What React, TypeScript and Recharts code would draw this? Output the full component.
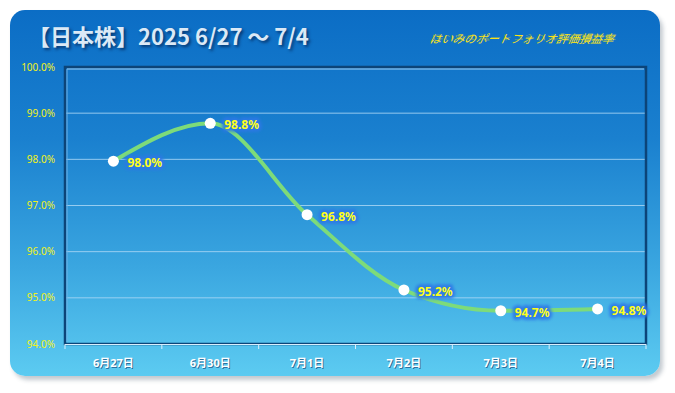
import React from 'react';
import * as R from 'recharts';
import { LineChart, Line, XAxis, YAxis, CartesianGrid } from 'recharts';

const categories = ['6月27日', '6月30日', '7月1日', '7月2日', '7月3日', '7月4日'];
const values = [97.96, 98.78, 96.8, 95.17, 94.72, 94.76];
const yTicks = [94, 95, 96, 97, 98, 99, 100];
const titleText = '【日本株】2025 6/27 ～ 7/4';
const subtitleText = 'はいみのポートフォリオ評価損益率';

const data = categories.map((c, i) => ({ cat: c, v: values[i] }));

const FONT = '"Noto Sans", "Noto Sans CJK JP", sans-serif';

const PlotFrame = () => {
  const pa: any = (R as any).usePlotArea ? (R as any).usePlotArea() : null;
  if (!pa) return null;
  const { x, y, width, height } = pa;
  const n = categories.length;
  const ticks = Array.from({ length: n + 1 }, (_, i) => x + (width * i) / n);
  return (
    <g>
      <rect x={x} y={y} width={width} height={height} fill="none" stroke="#0c4478" strokeWidth={2.5} />
      <line x1={x + 2} y1={y + 2} x2={x + width - 2} y2={y + 2} stroke="#9fd0f4" strokeWidth={1} />
      <line x1={x + 2} y1={y + 2} x2={x + 2} y2={y + height - 2} stroke="#6fb4e8" strokeWidth={1} />
      <line x1={x} y1={y + height + 0.5} x2={x + width} y2={y + height + 0.5} stroke="#d8eefc" strokeWidth={1} />
      {ticks.map((tx, i) => (
        <line key={i} x1={tx} y1={y + height} x2={tx} y2={y + height + 5} stroke="#d8eefc" strokeWidth={1} />
      ))}
    </g>
  );
};

const ValueLabel = (props: any) => {
  const { x, y, value } = props;
  const t = `${Number(value).toFixed(1)}%`;
  const tx = x + 14;
  const ty = y + 6;
  return (
    <g>
      <text x={tx} y={ty} fontFamily={FONT} fontWeight={700} fontSize={12}
        fill="#2d78e6" stroke="#2d78e6" strokeWidth={6} strokeLinejoin="round"
        style={{ filter: 'blur(1.5px)' }} opacity={0.9}>{t}</text>
      <text x={tx} y={ty} fontFamily={FONT} fontWeight={700} fontSize={12} fill="#ffff1a">{t}</text>
    </g>
  );
};

const XTick = (props: any) => {
  const { x, y, payload } = props;
  return (
    <g>
      <text x={x + 1} y={y + 1} textAnchor="middle" fontFamily={FONT} fontWeight={700} fontSize={11} fill="#1a4f80" opacity={0.7}>{payload.value}</text>
      <text x={x} y={y} textAnchor="middle" fontFamily={FONT} fontWeight={700} fontSize={11} fill="#ffffff">{payload.value}</text>
    </g>
  );
};

export default function App() {
  return (
    <div style={{ position: 'absolute', left: 0, top: 0, width: 675, height: 393, background: '#ffffff' }}>
      <div style={{
        position: 'absolute', left: 10, top: 10, width: 650, height: 366, borderRadius: 15,
        background: 'linear-gradient(180deg, #0b6dc5 0%, #1a80cf 35%, #3aa6e0 70%, #5ccbf1 100%)',
        boxShadow: '3px 4px 4px rgba(60,80,100,0.3)'
      }} />
      <div style={{
        position: 'absolute', left: 28, top: 19, fontFamily: '"Noto Sans CJK JP", sans-serif', fontWeight: 700,
        fontSize: 22, color: '#dbe9f6', textShadow: '2px 2px 3px rgba(0,20,60,0.6)', whiteSpace: 'nowrap', letterSpacing: 0
      }}>{titleText}</div>
      <div style={{
        position: 'absolute', left: 430, top: 30, fontFamily: '"Noto Sans CJK JP", sans-serif', fontStyle: 'italic',
        fontSize: 11.5, color: '#f7e21c', whiteSpace: 'nowrap', transform: 'skewX(-12deg)', lineHeight: '16px'
      }}>{subtitleText}</div>
      <div style={{
        position: 'absolute', left: 430, top: 43, fontFamily: '"Noto Sans CJK JP", sans-serif', fontStyle: 'italic',
        fontSize: 11.5, color: '#f7e21c', whiteSpace: 'nowrap', transform: 'skewX(-12deg) scaleY(-0.6)', transformOrigin: 'top',
        lineHeight: '16px', opacity: 0.5
      }}>{subtitleText}</div>
      <div style={{ position: 'absolute', left: 0, top: 0 }}>
        <LineChart width={675} height={393} data={data} margin={{ top: 67, right: 29, bottom: 0, left: 0 }}>
          <CartesianGrid horizontal vertical={false} stroke="#a9d6f5" strokeOpacity={0.85} />
          <XAxis dataKey="cat" scale="band" height={49} tick={<XTick />} axisLine={false} tickLine={false} tickMargin={17} interval={0} />
          <YAxis domain={[94, 100]} ticks={yTicks} width={65} axisLine={false} tickLine={false} tickMargin={4}
            tick={{ fill: '#f2f21a', fontSize: 10, fontFamily: FONT }} tickFormatter={(v: number) => `${v.toFixed(1)}%`} />
          <PlotFrame />
          <Line type="monotone" dataKey="v" stroke="#7ddb7a" strokeWidth={4} isAnimationActive={false}
            dot={{ r: 5.5, fill: '#ffffff', stroke: '#ffffff', strokeWidth: 0 }} activeDot={false}
            label={<ValueLabel />} />
        </LineChart>
      </div>
    </div>
  );
}
